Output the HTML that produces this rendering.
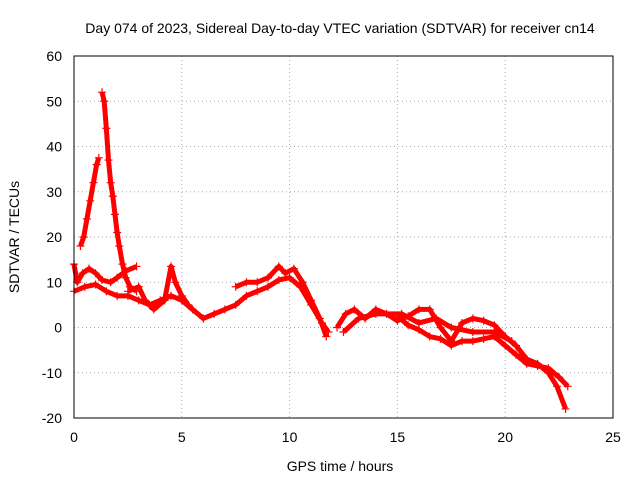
<!DOCTYPE html>
<html><head><meta charset="utf-8"><style>
body{margin:0;background:#fff}
svg{display:block;font-family:"Liberation Sans",sans-serif;font-size:14px}
</style></head><body>
<svg id="chart" width="640" height="480">
<text x="340" y="33" text-anchor="middle">Day 074 of 2023, Sidereal Day-to-day VTEC variation (SDTVAR) for receiver cn14</text>
<text x="340" y="471" text-anchor="middle">GPS time / hours</text>
<text transform="translate(19,237) rotate(-90)" text-anchor="middle">SDTVAR / TECUs</text>
<g id="grid"></g><g id="marks"></g>
<rect x="74" y="56" width="539" height="362" fill="none" stroke="#000"/>
</svg>
<script>
const xTicks=[0,5,10,15,20,25];
const yTicks=[-20,-10,0,10,20,30,40,50,60];
const spikeRise=[[0.3,18],[0.45,20],[0.6,24],[0.75,28],[0.9,32],[1.05,36],[1.15,37.5]];
const spikeFall=[[1.3,52],[1.4,50],[1.5,44],[1.6,37],[1.7,32],[1.8,29],[1.9,25],[2.0,21],[2.1,18],[2.25,14],[2.4,11],[2.6,9],[2.9,8]];
const trackB=[[0,14],[0.15,10],[0.4,12],[0.7,13],[1.0,12],[1.3,10.5],[1.7,10],[2.0,11],[2.4,12.5],[2.9,13.5]];
const trackC=[[0,8],[0.5,9],[1.0,9.5],[1.5,8],[2.0,7],[2.5,7],[3.0,6],[3.5,5],[4.0,6],[4.5,7],[5.0,6],[5.5,4],[6.0,2],[6.5,3],[7.0,4],[7.5,5],[8.0,7],[8.5,8],[9.0,9],[9.5,10.5],[10.0,11],[10.5,9],[11.0,5],[11.5,1],[11.8,-1]];
const trackD=[[2.5,8],[3.0,9],[3.3,6],[3.7,4],[4.2,6],[4.5,13.5],[4.7,10],[5.0,7],[5.3,5]];
const trackE=[[7.5,9],[8.0,10],[8.5,10],[9.0,11],[9.5,13.5],[9.8,12],[10.2,13],[10.6,10],[11.0,6],[11.4,2],[11.7,-2]];
const trackF=[[12.2,0],[12.6,3],[13.0,4],[13.5,2],[14.0,4],[14.5,3],[15.0,1.5],[15.5,2.5],[16.0,4],[16.5,4],[17.0,0],[17.5,-3],[18.0,1],[18.5,2],[19.0,1.5],[19.5,0.5],[20.0,-2],[20.5,-4],[21.0,-7],[21.5,-8],[22.0,-10],[22.4,-13],[22.8,-18]];
const trackG=[[15.0,2.5],[15.5,0.5],[16.0,-0.5],[16.5,-2],[17.0,-2.5],[17.5,-4],[18.0,-3],[18.5,-3],[19.0,-2.5],[19.5,-2],[20.0,-4],[20.5,-6],[21.0,-8],[21.5,-8.5],[22.0,-9],[22.5,-11],[22.9,-13]];
const trackH=[[12.5,-1],[13.2,2],[14.0,3],[15.2,3],[16.0,1],[16.8,2],[17.5,0],[18.5,-1],[19.5,-1],[20.3,-3]];
const series=[spikeRise,spikeFall,trackB,trackC,trackD,trackE,trackF,trackG,trackH];
const X=v=>74+v*539/25, Y=v=>418-(v+20)*362/80;
const NS="http://www.w3.org/2000/svg";
const grid=document.getElementById('grid'), marks=document.getElementById('marks');
function mk(t,a,p){const e=document.createElementNS(NS,t);for(const k in a)e.setAttribute(k,a[k]);p.appendChild(e);return e;}
xTicks.forEach(t=>{
  const l=mk('line',{x1:X(t),x2:X(t),y1:56,y2:418,stroke:'#aaa','stroke-dasharray':'1,3'},grid);
  
  
  const tx=mk('text',{x:X(t),y:442,'text-anchor':'middle'},grid);tx.textContent=t;
  
  
});
yTicks.forEach(t=>{
  const l=mk('line',{x1:74,x2:613,y1:Y(t),y2:Y(t),stroke:'#aaa','stroke-dasharray':'1,3'},grid);
  
  
  const tx=mk('text',{x:62,y:Y(t)+5,'text-anchor':'end'},grid);tx.textContent=t;
  
  
});
series.forEach(s=>{
  const pl=mk('polyline',{points:s.map(p=>X(p[0])+','+Y(p[1])).join(' '),fill:'none',stroke:'#f00','stroke-width':5,'stroke-linejoin':'round'},marks);
  
  
  s.forEach(p=>{
    const x=X(p[0]),y=Y(p[1]);
    const m=mk('path',{d:`M${x-4},${y}H${x+4}M${x},${y-4}V${y+4}`,stroke:'#f00','stroke-width':1.2},marks);
    
    
  });
});
</script>
</body></html>
